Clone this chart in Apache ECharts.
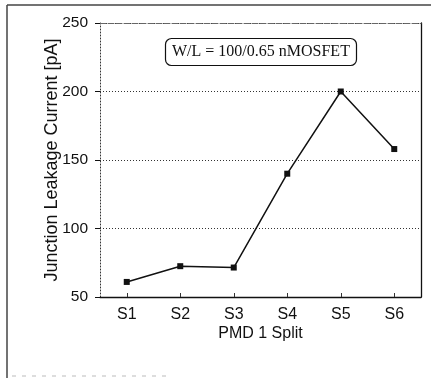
<!DOCTYPE html>
<html>
<head>
<meta charset="utf-8">
<script src="https://cdn.jsdelivr.net/npm/echarts@6/dist/echarts.min.js"></script>
<style>
html,body{margin:0;padding:0;background:#fff;}
#chart{width:431px;height:378px;}
</style>
</head>
<body>
<div id="chart"></div>
<script>
const categories = ['S1','S2','S3','S4','S5','S6'];
const leakage = [61, 72.5, 71.5, 140, 200, 158];
const yTicks = [50, 250, 50]; // min, max, interval
const yAxisName = 'Junction Leakage Current [pA]';
const xAxisName = 'PMD 1 Split';
const note = 'W/L = 100/0.65 nMOSFET';

const chart = echarts.init(document.getElementById('chart'), null, {renderer:'canvas'});
const sans = '"Liberation Sans", Arial, sans-serif';
chart.setOption({
  animation: false,
  backgroundColor: '#fff',
  title: {
    text: note,
    left: 165, top: 38,
    padding: [6, 7, 6, 7],
    borderColor: '#111', borderWidth: 1.2, borderRadius: 6,
    textStyle: {fontFamily: '"Liberation Serif", "Times New Roman", serif', fontSize: 16, fontWeight: 'normal', color: '#111'}
  },
  grid: {left: 100, right: 10, top: 23, bottom: 81},
  xAxis: [{
    type: 'category', data: categories, boundaryGap: true,
    axisLine: {lineStyle: {color: '#111', width: 1.3}},
    axisTick: {show: true, inside: true, alignWithLabel: true, length: 4, lineStyle: {color: '#333'}},
    axisLabel: {fontFamily: sans, fontSize: 16, color: '#111', margin: 10},
    name: xAxisName, nameLocation: 'middle', nameGap: 29, nameMoveOverlap: false,
    nameTextStyle: {fontFamily: sans, fontSize: 16, color: '#111'}
  }, {
    type: 'category', data: categories, position: 'top',
    axisLine: {lineStyle: {color: '#666', width: 1, type: [6, 2]}},
    axisTick: {show: false}, axisLabel: {show: false}
  }],
  yAxis: [{
    type: 'value', min: yTicks[0], max: yTicks[1], interval: yTicks[2],
    axisLine: {show: true, lineStyle: {color: '#333', width: 1, type: [1, 2]}},
    axisTick: {show: true, length: 5, lineStyle: {color: '#111'}},
    axisLabel: {fontFamily: sans, fontSize: 15.5, color: '#111', margin: 12},
    splitLine: {show: true, lineStyle: {color: '#333', width: 1, type: [1, 2]}},
    name: yAxisName, nameLocation: 'middle', nameGap: 39, nameRotate: 90, nameMoveOverlap: false,
    nameTextStyle: {fontFamily: sans, fontSize: 18, color: '#111'}
  }, {
    type: 'value', min: yTicks[0], max: yTicks[1], interval: yTicks[2], position: 'right',
    axisLine: {show: true, lineStyle: {color: '#111', width: 1.3}},
    axisTick: {show: false}, axisLabel: {show: false}, splitLine: {show: false}
  }],
  series: [{
    type: 'line', data: leakage, xAxisIndex: 0, yAxisIndex: 0,
    symbol: 'rect', symbolSize: 6,
    lineStyle: {color: '#111', width: 1.5},
    itemStyle: {color: '#111'}
  }],
  graphic: [
    {type: 'line', shape: {x1: 7, y1: 5, x2: 7, y2: 378}, style: {stroke: '#444', lineWidth: 1.5}},
    {type: 'line', shape: {x1: 7, y1: 5, x2: 431, y2: 5}, style: {stroke: '#444', lineWidth: 1.5}},
    {type: 'line', shape: {x1: 12, y1: 376, x2: 170, y2: 376}, style: {stroke: '#bbb', lineWidth: 1, lineDash: [4, 6]}}
  ]
});
</script>
</body>
</html>
